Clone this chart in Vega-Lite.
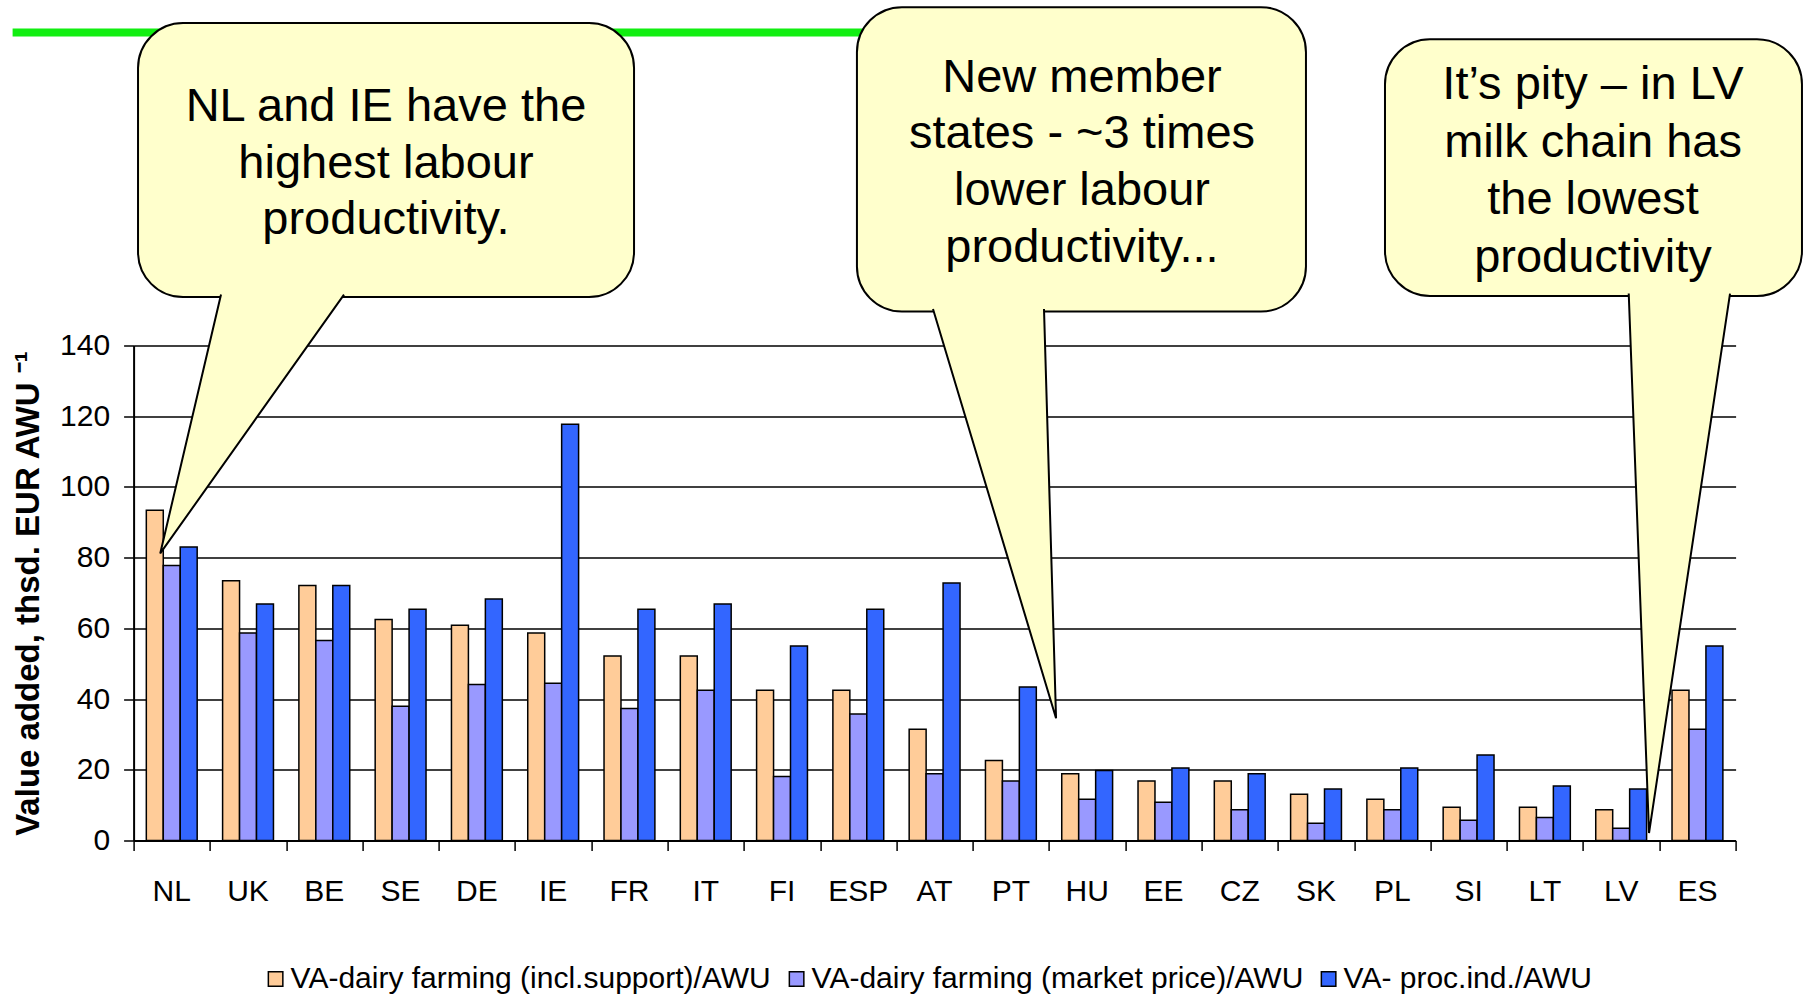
{
  "$schema": "https://vega.github.io/schema/vega-lite/v6.json",
  "width": 1602,
  "height": 495,
  "autosize": "none",
  "padding": {"left": 133.6, "top": 345.5, "right": 70.4, "bottom": 155.5},
  "background": "white",
  "config": {"font": "Liberation Sans", "view": {"stroke": null}},
  "datasets": {
    "bars": [
      {"country": "NL", "a": 93.4, "b": 77.8, "c": 83.0},
      {"country": "UK", "a": 73.5, "b": 58.7, "c": 66.9},
      {"country": "BE", "a": 72.1, "b": 56.6, "c": 72.1},
      {"country": "SE", "a": 62.5, "b": 38.0, "c": 65.4},
      {"country": "DE", "a": 60.9, "b": 44.1, "c": 68.3},
      {"country": "IE", "a": 58.7, "b": 44.5, "c": 117.7},
      {"country": "FR", "a": 52.2, "b": 37.3, "c": 65.4},
      {"country": "IT", "a": 52.2, "b": 42.5, "c": 66.9},
      {"country": "FI", "a": 42.5, "b": 18.1, "c": 55.0},
      {"country": "ESP", "a": 42.5, "b": 35.8, "c": 65.4},
      {"country": "AT", "a": 31.5, "b": 18.9, "c": 72.8},
      {"country": "PT", "a": 22.6, "b": 16.8, "c": 43.4},
      {"country": "HU", "a": 18.9, "b": 11.7, "c": 19.8},
      {"country": "EE", "a": 16.8, "b": 10.8, "c": 20.5},
      {"country": "CZ", "a": 16.8, "b": 8.7, "c": 18.9},
      {"country": "SK", "a": 13.1, "b": 4.9, "c": 14.6},
      {"country": "PL", "a": 11.7, "b": 8.7, "c": 20.5},
      {"country": "SI", "a": 9.4, "b": 5.7, "c": 24.2},
      {"country": "LT", "a": 9.4, "b": 6.5, "c": 15.4},
      {"country": "LV", "a": 8.7, "b": 3.5, "c": 14.6},
      {"country": "ES", "a": 42.5, "b": 31.5, "c": 55.0}
    ],
    "boxes": [
      {"id": 1, "x": 0.058, "x2": 6.560, "y": 231.2, "y2": 153.7},
      {"id": 2, "x": 9.482, "x2": 15.368, "y": 235.7, "y2": 149.6},
      {"id": 3, "x": 16.404, "x2": 21.870, "y": 226.6, "y2": 154.0}
    ],
    "pointers": [
      {"id": 1, "k": 1, "x": 1.146, "y": 154.4},
      {"id": 1, "k": 2, "x": 0.349, "y": 81.2},
      {"id": 1, "k": 3, "x": 2.758, "y": 154.4},
      {"id": 2, "k": 1, "x": 10.479, "y": 150.3},
      {"id": 2, "k": 2, "x": 12.092, "y": 34.6},
      {"id": 2, "k": 3, "x": 11.934, "y": 150.3},
      {"id": 3, "k": 1, "x": 19.599, "y": 154.7},
      {"id": 3, "k": 2, "x": 19.865, "y": 2.1},
      {"id": 3, "k": 3, "x": 20.927, "y": 154.7}
    ],
    "texts": [
      {"t": "NL and IE have the", "x": 3.308, "y": 203.6},
      {"t": "highest labour", "x": 3.308, "y": 187.5},
      {"t": "productivity.", "x": 3.308, "y": 171.4},
      {"t": "New member", "x": 12.432, "y": 211.8},
      {"t": "states - ~3 times", "x": 12.432, "y": 195.9},
      {"t": "lower labour", "x": 12.432, "y": 179.8},
      {"t": "productivity...", "x": 12.432, "y": 163.6},
      {"t": "It’s pity – in LV", "x": 19.131, "y": 209.6},
      {"t": "milk chain has", "x": 19.131, "y": 193.3},
      {"t": "the lowest", "x": 19.131, "y": 177.1},
      {"t": "productivity", "x": 19.131, "y": 160.8}
    ],
    "green": [{"x": -1.586, "x2": 10.05, "y": 228.5}]
  },
  "layer": [
    {
      "data": {"name": "bars"},
      "transform": [{"fold": ["a", "b", "c"], "as": ["series", "value"]}],
      "mark": {"type": "bar", "stroke": "black", "strokeWidth": 1.5},
      "encoding": {
        "x": {
          "field": "country", "type": "nominal",
          "sort": ["NL","UK","BE","SE","DE","IE","FR","IT","FI","ESP","AT","PT","HU","EE","CZ","SK","PL","SI","LT","LV","ES"],
          "scale": {"paddingInner": 0.3333, "paddingOuter": 0.1667},
          "axis": {"orient": "bottom", "title": null, "ticks": false, "tickSize": 0, "domain": false, "labelAngle": 0, "labelFontSize": 30, "labelColor": "black", "labelPadding": 36, "labelBaseline": "top"}
        },
        "xOffset": {"field": "series", "type": "nominal", "sort": ["a", "b", "c"]},
        "y": {
          "field": "value", "type": "quantitative",
          "scale": {"domain": [0, 140], "nice": false},
          "axis": {
            "values": [0, 20, 40, 60, 80, 100, 120, 140],
            "grid": true, "gridColor": "black", "gridWidth": 1.5, "gridOpacity": 1,
            "domain": true, "domainColor": "black", "domainWidth": 2,
            "ticks": true, "tickSize": 10, "tickColor": "black", "tickWidth": 1.5,
            "labelFontSize": 30, "labelColor": "black", "labelPadding": 14,
            "title": "Value added, thsd. EUR AWU ⁻¹",
            "titleFontSize": 33, "titleFontWeight": "bold", "titleColor": "black",
            "titleX": -95.6, "titleY": 247.5, "titleAngle": -90, "titleBaseline": "alphabetic", "titleAlign": "center"
          }
        },
        "color": {
          "field": "series", "type": "nominal",
          "scale": {"domain": ["a", "b", "c"], "range": ["#FFCC99", "#9999FF", "#3366FF"]},
          "legend": {
            "orient": "none", "legendX": 127, "legendY": 618.5, "direction": "horizontal", "columns": 3,
            "title": null, "padding": 0,
            "labelFontSize": 30, "labelColor": "black", "labelLimit": 0, "labelOffset": 0,
            "symbolType": "square", "symbolSize": 210, "symbolStrokeColor": "black", "symbolStrokeWidth": 1.5,
            "columnPadding": 10,
            "labelExpr": "datum.label == 'a' ? 'VA-dairy farming (incl.support)/AWU' : datum.label == 'b' ? 'VA-dairy farming (market price)/AWU' : 'VA- proc.ind./AWU'"
          }
        }
      }
    },
    {
      "data": {"name": "green"},
      "mark": {"type": "rule", "stroke": "#11EE11", "strokeWidth": 8},
      "encoding": {
        "x": {"field": "x", "type": "quantitative", "scale": {"domain": [0, 21], "nice": false, "zero": false}, "axis": null},
        "x2": {"field": "x2"},
        "y": {"field": "y", "type": "quantitative", "scale": {"domain": [0, 140], "nice": false}}
      }
    },
    {
      "data": {"name": "boxes"},
      "mark": {"type": "rect", "fill": "#FFFFCC", "stroke": "black", "strokeWidth": 2, "cornerRadius": 45},
      "encoding": {
        "x": {"field": "x", "type": "quantitative", "scale": {"domain": [0, 21], "nice": false, "zero": false},
          "axis": {"orient": "bottom", "values": [0,1,2,3,4,5,6,7,8,9,10,11,12,13,14,15,16,17,18,19,20,21], "labels": false, "ticks": true, "tickSize": 10, "tickColor": "black", "tickWidth": 1.5, "domain": true, "domainColor": "black", "domainWidth": 2, "grid": false, "title": null}},
        "x2": {"field": "x2"},
        "y": {"field": "y", "type": "quantitative", "scale": {"domain": [0, 140], "nice": false}},
        "y2": {"field": "y2"}
      }
    },
    {
      "data": {"name": "pointers"},
      "mark": {"type": "line", "fill": "#FFFFCC", "stroke": "black", "strokeWidth": 2, "strokeJoin": "miter"},
      "encoding": {
        "x": {"field": "x", "type": "quantitative", "scale": {"domain": [0, 21], "nice": false, "zero": false}, "axis": null},
        "y": {"field": "y", "type": "quantitative", "scale": {"domain": [0, 140], "nice": false}},
        "detail": {"field": "id", "type": "nominal"},
        "order": {"field": "k", "type": "quantitative"}
      }
    },
    {
      "data": {"name": "texts"},
      "mark": {"type": "text", "align": "center", "baseline": "alphabetic", "fontSize": 47, "color": "black"},
      "encoding": {
        "x": {"field": "x", "type": "quantitative", "scale": {"domain": [0, 21], "nice": false, "zero": false}, "axis": null},
        "y": {"field": "y", "type": "quantitative", "scale": {"domain": [0, 140], "nice": false}},
        "text": {"field": "t", "type": "nominal"}
      }
    }
  ],
  "resolve": {"scale": {"x": "independent"}, "axis": {"x": "independent"}}
}
